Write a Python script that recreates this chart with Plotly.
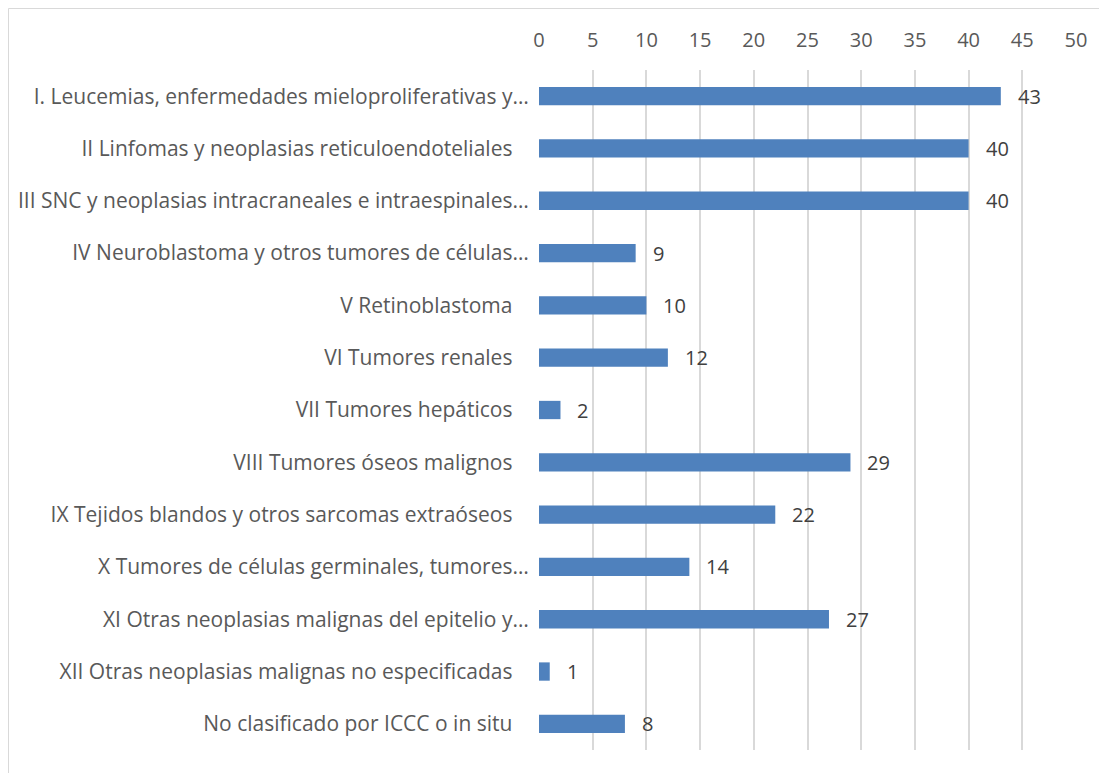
import plotly.graph_objects as go

categories = [
    "I. Leucemias, enfermedades mieloproliferativas y…",
    "II Linfomas y neoplasias reticuloendoteliales\u00a0\u00a0\u00a0",
    "III SNC y neoplasias intracraneales e intraespinales…",
    "IV Neuroblastoma y otros tumores de células…",
    "V Retinoblastoma\u00a0\u00a0\u00a0",
    "VI Tumores renales\u00a0\u00a0\u00a0",
    "VII Tumores hepáticos\u00a0\u00a0\u00a0",
    "VIII Tumores óseos malignos\u00a0\u00a0\u00a0",
    "IX Tejidos blandos y otros sarcomas extraóseos\u00a0\u00a0\u00a0",
    "X Tumores de células germinales, tumores…",
    "XI Otras neoplasias malignas del epitelio y…",
    "XII Otras neoplasias malignas no especificadas\u00a0\u00a0\u00a0",
    "No clasificado por ICCC o in situ\u00a0\u00a0\u00a0",
]
values = [43, 40, 40, 9, 10, 12, 2, 29, 22, 14, 27, 1, 8]
x_ticks = [0, 5, 10, 15, 20, 25, 30, 35, 40, 45, 50]

OFF = 8  # default page body margin
W, H = 1107, 773
# target plot area in page pixels: x 539..1076, y 70..750
L, R = 539 - OFF, W - (1076 - OFF)
T, B = 70 - OFF, H - (750 - OFF)
pw, ph = W - L - R, H - T - B

FONT = "Open Sans"
FS_CAT = 21
FS_NUM = 20
fig = go.Figure()
fig.add_trace(go.Bar(
    x=values, y=categories, orientation="h",
    marker=dict(color="#4F81BD", line=dict(color="#4F81BD", width=0)),
    width=0.35, hoverinfo="skip",
))

for v, c in zip(values, categories):
    fig.add_annotation(x=v, y=c, text=str(v), showarrow=False, xanchor="left",
                       xshift=15, font=dict(family=FONT, size=FS_NUM, color="#404040"))

def fx(p):  # figure pixel -> paper x
    return (p - L) / pw

def fy(p):  # figure pixel -> paper y
    return (T + ph - p) / ph

fig.add_shape(type="rect", xref="paper", yref="paper",
              x0=fx(0.5), x1=fx(1120), y0=fy(790), y1=fy(0.5),
              line=dict(color="#D9D9D9", width=1), layer="below")

fig.update_layout(
    width=W, height=H,
    margin=dict(l=L, r=R, t=T, b=B, pad=0),
    paper_bgcolor="white", plot_bgcolor="white",
    showlegend=False,
    font=dict(family=FONT, size=FS_CAT, color="#595959"),
    xaxis=dict(side="top", range=[0, 50], tickvals=x_ticks,
               showgrid=True, gridcolor="#D9D9D9", gridwidth=1.5,
               zeroline=False, showline=False,
               ticks="outside", ticklen=14, tickcolor="rgba(0,0,0,0)",
               tickfont=dict(family=FONT, size=FS_NUM, color="#595959"),
               automargin=False, fixedrange=True),
    yaxis=dict(autorange="reversed", showgrid=False, zeroline=False,
               showline=False, ticks="outside", ticklen=5,
               tickcolor="rgba(0,0,0,0)",
               tickfont=dict(family=FONT, size=FS_CAT, color="#595959"),
               automargin=False, fixedrange=True),
)

fig.write_html("out.html")
